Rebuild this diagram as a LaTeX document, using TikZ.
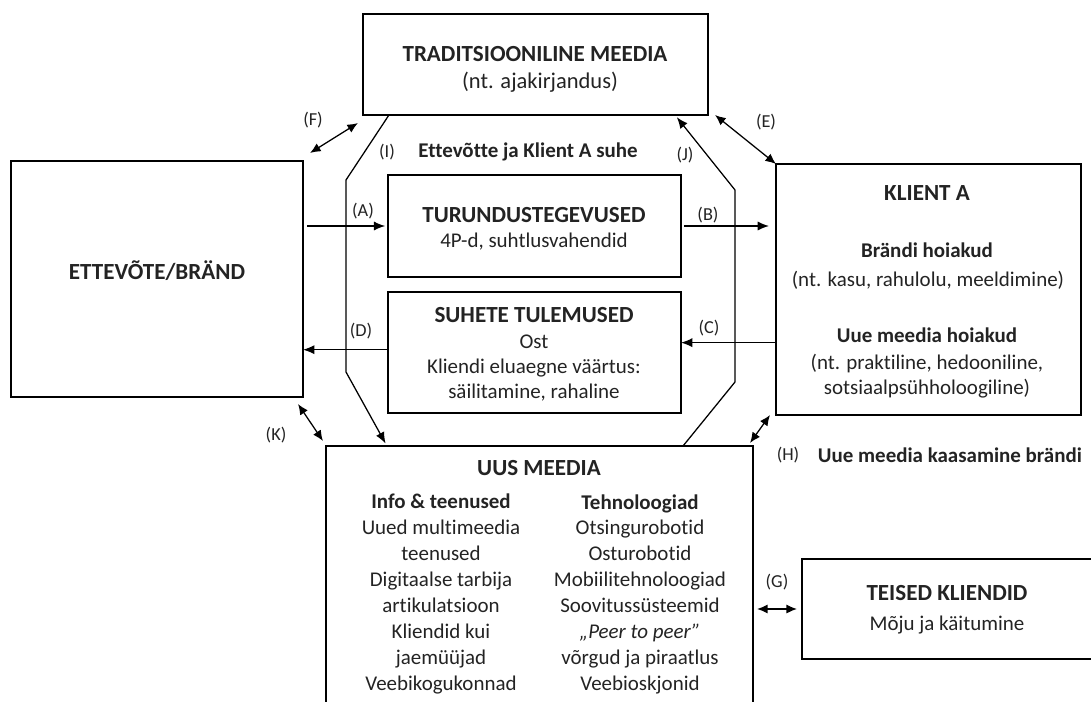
\documentclass[tikz,border=0pt]{standalone}
\usepackage{fontspec}
\setmainfont{Carlito}[Ligatures={CommonOff}]
\usepackage{xcolor}
\definecolor{inkgray}{RGB}{35,35,35}
\usepackage{tikz}
\usetikzlibrary{arrows.meta, positioning, calc}
\newcommand{\titlefont}{\fontsize{16.4}{19}\selectfont\bfseries}
\newcommand{\bodyfont}{\fontsize{14.9}{17.7}\selectfont}
\newcommand{\labfont}{\fontsize{13}{15}\selectfont}

\begin{document}
\begin{tikzpicture}[x=0.025cm, y=-0.025cm,
    box/.style={draw, line width=1.1pt, inner sep=0pt, outer sep=0pt},
    arr/.style={-{Latex[length=8pt,width=6.5pt]}, line width=0.9pt},
    dbl/.style={{Latex[length=7.5pt,width=6.5pt]}-{Latex[length=7.5pt,width=6.5pt]}, line width=0.9pt},
    lbl/.style={font=\labfont, text=inkgray, inner sep=0pt}]
  \useasboundingbox (0,0) rectangle (1091,702);
  \clip (0,0) rectangle (1091,702);

  % boxes
  \node[box, minimum width=8.625cm, minimum height=2.525cm] (trad) at (535.5,64.5) {};
  \node[box, minimum width=7.3cm, minimum height=5.9cm] (ettevote) at (157,279) {};
  \node[box, minimum width=7.625cm, minimum height=6.275cm] (klient) at (928.5,289.5) {};
  \node[box, minimum width=7.325cm, minimum height=2.55cm] (turundus) at (534.5,226) {};
  \node[box, minimum width=7.325cm, minimum height=3.025cm] (suhted) at (534.5,352.5) {};
  \node[box, minimum width=10.675cm, minimum height=7.85cm] (uus) at (539.5,603) {};
  \node[box, minimum width=8.2cm, minimum height=2.5cm] (teised) at (966,609) {};

  % box texts
  \node[font=\titlefont, text=inkgray] (tradT) at (535,54) {TRADITSIOONILINE MEEDIA};
  \node[font=\fontsize{16}{19}\selectfont, text=inkgray] (tradB) at (540,82) {(nt. ajakirjandus)};
  \node[font=\titlefont, text=inkgray] (ettT) at (157,271) {ETTEVÕTE/BRÄND};
  \node[font=\titlefont, text=inkgray] (klientT) at (927,193) {KLIENT A};
  \node[font=\bodyfont\bfseries, text=inkgray] (brandT) at (927,250) {Brändi hoiakud};
  \node[font=\bodyfont, text=inkgray] (brandB) at (928,280) {(nt. kasu, rahulolu, meeldimine)};
  \node[font=\bodyfont\bfseries, text=inkgray] (meediaT) at (927,335) {Uue meedia hoiakud};
  \node[font=\bodyfont, text=inkgray, align=center] (meediaB) at (927,376.5) {(nt. praktiline, hedooniline,\\sotsiaalpsühholoogiline)};
  \node[font=\titlefont, text=inkgray] (turT) at (534,215) {TURUNDUSTEGEVUSED};
  \node[font=\bodyfont, text=inkgray] (turB) at (534,242) {4P-d, suhtlusvahendid};
  \node[font=\titlefont, text=inkgray] (suhT) at (534,315) {SUHETE TULEMUSED};
  \node[font=\bodyfont, text=inkgray, align=center] (suhB) at (534,368) {Ost\\Kliendi eluaegne väärtus:\\säilitamine, rahaline};
  \node[font=\titlefont, text=inkgray] (uusT) at (539,468) {UUS MEEDIA};
  \node[font=\fontsize{14.9}{18.4}\selectfont, text=inkgray, align=center] (infoC) at (441,594)
    {\textbf{Info \& teenused}\\Uued multimeedia\\teenused\\Digitaalse tarbija\\artikulatsioon\\Kliendid kui\\jaemüüjad\\Veebikogukonnad};
  \node[font=\fontsize{14.9}{18.4}\selectfont, text=inkgray, align=center] (tehnC) at (640,594)
    {\textbf{Tehnoloogiad}\\Otsingurobotid\\Osturobotid\\Mobiilitehnoloogiad\\Soovitussüsteemid\\\textit{„Peer to peer”}\\võrgud ja piraatlus\\Veebioskjonid};
  \node[font=\titlefont, text=inkgray] (teisT) at (947,593) {TEISED KLIENDID};
  \node[font=\bodyfont, text=inkgray] (teisB) at (947,625) {Mõju ja käitumine};

  % free labels
  \node[font=\bodyfont\bfseries, text=inkgray] (suhe) at (528,152) {Ettevõtte ja Klient A suhe};
  \node[font=\bodyfont\bfseries, text=inkgray, anchor=west] (kaasamine) at (813,455) {Uue meedia kaasamine brändi};
  \node[lbl] (labA) at (363,211) {(A)};
  \node[lbl] (labB) at (708,215) {(B)};
  \node[lbl] (labC) at (709,328) {(C)};
  \node[lbl] (labD) at (361,331) {(D)};
  \node[lbl] (labE) at (766,122) {(E)};
  \node[lbl] (labF) at (313,120) {(F)};
  \node[lbl] (labG) at (777,582) {(G)};
  \node[lbl] (labH) at (788,455) {(H)};
  \node[lbl] (labI) at (387,152) {(I)};
  \node[lbl] (labJ) at (685,155) {(J)};
  \node[lbl] (labK) at (276,435) {(K)};

  % main flow
  \draw[arr, shorten <=3pt, shorten >=2pt] (ettevote.east |- turundus.west) -- (turundus.west);
  \draw[arr, shorten <=2pt, shorten >=5pt] (turundus.east) -- (klient.west |- turundus.east);
  \draw[arr] ([yshift=7pt]klient.west |- suhted.east) -- ([yshift=7pt]suhted.east);
  \draw[arr] ([yshift=2pt]suhted.west) -- ([yshift=2pt]ettevote.east |- suhted.west);

  % media links
  \coordinate (i1) at (346,180);
  \coordinate (i2) at (346,372);
  \coordinate (j1) at (735,382);
  \coordinate (j2) at (735,190);
  \draw[arr, shorten >=2pt] ([shift={(26,0)}]trad.south west) -- (i1) -- (i2) -- ([shift={(61,0)}]uus.north west);
  \draw[arr, shorten >=2pt] ([shift={(-70,0)}]uus.north east) -- (j1) -- (j2) -- ([shift={(-33,0)}]trad.south east);
  \draw[dbl] ([shift={(7,-8)}]ettevote.north east) -- ([shift={(-5,8)}]trad.south west);
  \draw[dbl] ([shift={(7,0)}]trad.south east) -- (klient.north west);
  \draw[dbl] ([shift={(-5,7)}]ettevote.south east) -- ([shift={(-3,-5)}]uus.north west);
  \draw[dbl] ([shift={(-6,0)}]klient.south west) -- ([shift={(-3,-3)}]uus.north east);
  \draw[dbl] ([shift={(4,0)}]uus.east |- teised.west) -- ([shift={(-5,0)}]teised.west);
\end{tikzpicture}
\end{document}
